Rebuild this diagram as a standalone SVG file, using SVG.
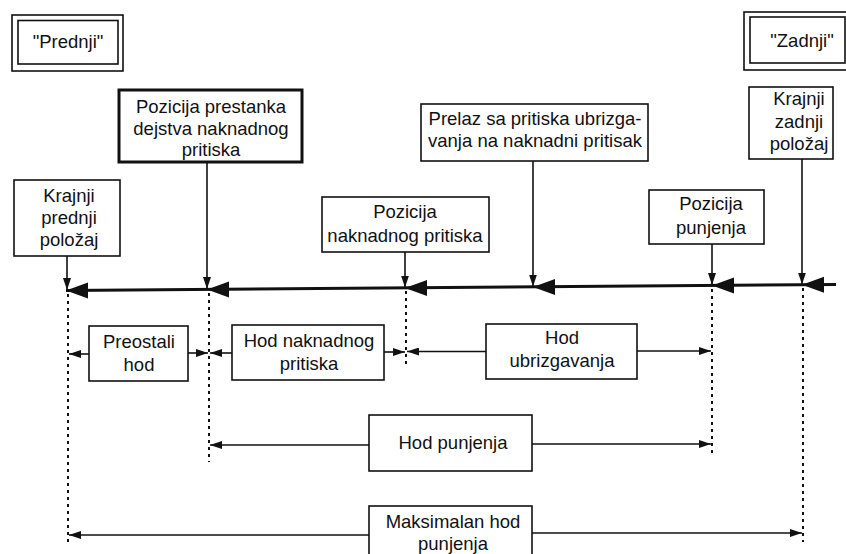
<svg xmlns="http://www.w3.org/2000/svg" width="846" height="554" viewBox="0 0 846 554">
<style>
  .box{fill:#fff;stroke:#111;stroke-width:1.6}
  .thick{fill:#fff;stroke:#111;stroke-width:3}
  .t{font-family:"Liberation Sans",Arial,sans-serif;font-size:18.5px;fill:#111;text-anchor:middle}
  .ln{stroke:#111;stroke-width:1.6;fill:none}
  .ar{stroke:#111;stroke-width:1.6;fill:none;marker-end:url(#ah)}
  .dot{stroke:#111;stroke-width:2;stroke-dasharray:3 4;fill:none}
  .axis{stroke:#111;stroke-width:3;fill:none}
</style>
<defs>
  <marker id="ah" markerUnits="userSpaceOnUse" markerWidth="12" markerHeight="8" refX="12" refY="4" orient="auto">
    <path d="M0,0 L12,4 L0,8 z" fill="#111"/>
  </marker>
  <path id="bigL" d="M0,0 L22,-8 L22,8 z" fill="#111"/>
</defs>

<g id="prednji">
  <rect class="box" x="12" y="15" width="111" height="56"/>
  <rect class="box" x="18" y="20.5" width="100" height="43.5" stroke-width="2"/>
  <text class="t" x="68" y="48">"Prednji"</text>
</g>
<g id="zadnji">
  <rect class="box" x="744" y="12" width="110" height="58"/>
  <rect class="box" x="750" y="17" width="95" height="46" stroke-width="2"/>
  <text class="t" x="802" y="47">"Zadnji"</text>
</g>

<g id="pozicija-prestanka">
  <rect class="thick" x="119" y="90" width="183" height="72"/>
  <text class="t" x="211" y="113">Pozicija prestanka</text>
  <text class="t" x="211" y="135">dejstva naknadnog</text>
  <text class="t" x="211" y="156">pritiska</text>
</g>
<g id="krajnji-prednji">
  <rect class="box" x="14" y="180" width="106" height="76"/>
  <text class="t" x="69" y="202">Krajnji</text>
  <text class="t" x="69" y="224">prednji</text>
  <text class="t" x="69" y="246">položaj</text>
</g>
<g id="pozicija-naknadnog">
  <rect class="box" x="322" y="197" width="167" height="55"/>
  <text class="t" x="405" y="218">Pozicija</text>
  <text class="t" x="405" y="242">naknadnog pritiska</text>
</g>
<g id="prelaz">
  <rect class="box" x="421" y="104" width="227" height="57"/>
  <text class="t" x="535" y="125">Prelaz sa pritiska ubrizga-</text>
  <text class="t" x="535" y="147">vanja na naknadni pritisak</text>
</g>
<g id="pozicija-punjenja">
  <rect class="box" x="649" y="190" width="115" height="54"/>
  <text class="t" x="711" y="210">Pozicija</text>
  <text class="t" x="711" y="234">punjenja</text>
</g>
<g id="krajnji-zadnji">
  <rect class="box" x="749" y="87" width="84" height="72"/>
  <text class="t" x="799" y="105">Krajnji</text>
  <text class="t" x="799" y="128">zadnji</text>
  <text class="t" x="799" y="150">položaj</text>
</g>

<g id="preostali-hod">
  <rect class="box" x="89" y="326" width="99" height="55"/>
  <text class="t" x="139" y="348">Preostali</text>
  <text class="t" x="139" y="371">hod</text>
</g>
<g id="hod-naknadnog">
  <rect class="box" x="232" y="325" width="152" height="55"/>
  <text class="t" x="309" y="347">Hod naknadnog</text>
  <text class="t" x="309" y="370">pritiska</text>
</g>
<g id="hod-ubrizgavanja">
  <rect class="box" x="486" y="324" width="151" height="55"/>
  <text class="t" x="562" y="344">Hod</text>
  <text class="t" x="562" y="367">ubrizgavanja</text>
</g>
<g id="hod-punjenja">
  <rect class="box" x="369" y="415" width="163" height="56"/>
  <text class="t" x="453" y="449">Hod punjenja</text>
</g>
<g id="maksimalan">
  <rect class="box" x="369" y="506" width="163" height="60"/>
  <text class="t" x="453" y="528">Maksimalan hod</text>
  <text class="t" x="453" y="550">punjenja</text>
</g>

<g id="connectors">
  <!-- main axis -->
  <line class="axis" x1="66" y1="290.5" x2="836" y2="284.5"/>
  <use href="#bigL" x="66" y="290.5"/>
  <use href="#bigL" x="207" y="289.4"/>
  <use href="#bigL" x="405" y="287.9"/>
  <use href="#bigL" x="533" y="286.9"/>
  <use href="#bigL" x="712" y="285.5"/>
  <use href="#bigL" x="802" y="284.8"/>
  <!-- vertical pointers -->
  <line class="ar" x1="67" y1="256" x2="67" y2="290"/>
  <line class="ar" x1="207" y1="162" x2="207" y2="289"/>
  <line class="ar" x1="405" y1="252" x2="405" y2="287.5"/>
  <line class="ar" x1="533" y1="161" x2="533" y2="286.5"/>
  <line class="ar" x1="712" y1="244" x2="712" y2="285"/>
  <line class="ar" x1="802" y1="159" x2="802" y2="284.5"/>
  <!-- dotted extension lines -->
  <line class="dot" x1="68" y1="294" x2="68" y2="542"/>
  <line class="dot" x1="209" y1="293" x2="209" y2="462"/>
  <line class="dot" x1="406" y1="291" x2="406" y2="365"/>
  <line class="dot" x1="712" y1="289" x2="712" y2="455"/>
  <line class="dot" x1="803" y1="288" x2="803" y2="542"/>
  <!-- dimension arrows -->
  <line class="ar" x1="89" y1="354" x2="69" y2="354"/>
  <line class="ar" x1="188" y1="353" x2="208" y2="353"/>
  <line class="ar" x1="232" y1="353" x2="210" y2="353"/>
  <line class="ar" x1="384" y1="352" x2="405" y2="352"/>
  <line class="ar" x1="486" y1="351.5" x2="407" y2="351.5"/>
  <line class="ar" x1="637" y1="351" x2="711" y2="351"/>
  <line class="ar" x1="369" y1="445" x2="210" y2="445"/>
  <line class="ar" x1="532" y1="444" x2="711" y2="444"/>
  <line class="ar" x1="369" y1="535" x2="69" y2="535"/>
  <line class="ar" x1="532" y1="533" x2="802" y2="533"/>
</g>
</svg>
